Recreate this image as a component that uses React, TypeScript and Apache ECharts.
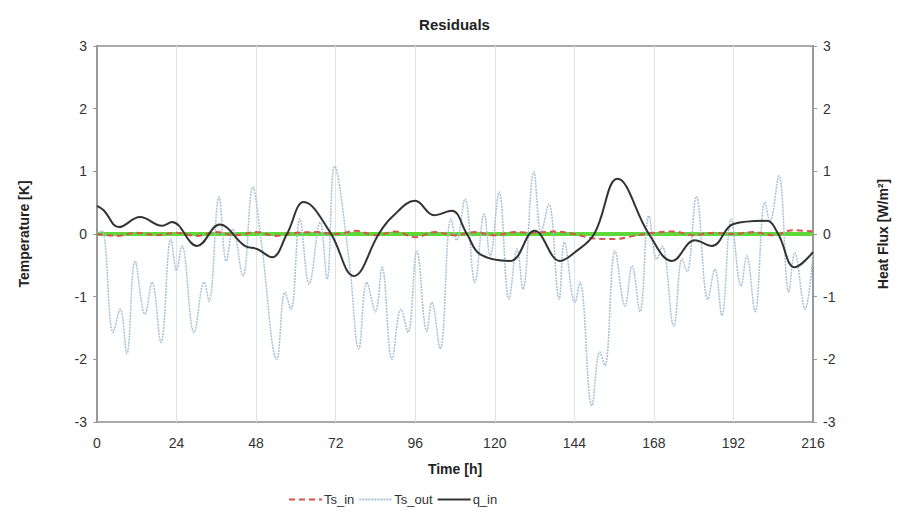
import React, { useEffect, useRef } from "react";
import * as echarts from "echarts";

const xTicks = [0, 24, 48, 72, 96, 120, 144, 168, 192, 216];

const tsOut: number[][] = [
  [0, 0.0], [1.5, 0.05], [4.9, -1.57], [7, -1.2], [9, -1.91], [11.5, -0.43], [14.5, -1.28],
  [16.6, -0.77], [19.3, -1.73], [22.3, -0.08], [24, -0.58], [25.6, -0.19], [29.3, -1.57],
  [32.3, -0.77], [33.8, -1.07], [36.8, 0.59], [39, -0.43], [41, 0.08], [44, -0.67], [47, 0.75],
  [49.5, -0.1], [54.3, -2.0], [56.7, -0.93], [58.5, -1.2], [61.2, 0.24], [64, -0.8], [67.3, 0.19],
  [69.4, -0.72], [71.7, 1.08], [76, -0.4], [79, -1.83], [81.4, -0.77], [84, -1.24], [86, -0.53],
  [89, -2.0], [91.7, -1.2], [93.8, -1.57], [96.5, -0.27], [99.5, -1.55], [101, -1.09],
  [103.5, -1.83], [106.8, 0.24], [108.5, -0.1], [111, 0.56], [114, -0.77], [116.8, 0.32],
  [118.6, -0.35], [121.3, 0.67], [124.3, -1.04], [126.7, -0.24], [128.5, -0.88], [131.8, 0.99],
  [134, 0.03], [136.3, 0.48], [139.4, -1.04], [141, -0.13], [144.2, -1.09], [145.7, -0.77],
  [149.3, -2.74], [151.7, -1.88], [153.2, -2.1], [156.3, -0.27], [159.3, -1.15], [161.4, -0.51],
  [163.8, -1.24], [166.5, 0.29], [168.9, -0.4], [170.5, -0.2], [174, -1.47], [176.5, -0.4],
  [178, -0.6], [180.8, 0.6], [184.3, -1.04], [186.4, -0.56], [188.5, -1.3], [191.3, 0.24],
  [194.3, -0.83], [196, -0.35], [198.5, -1.24], [201.5, 0.51], [203, 0.2], [205.7, 0.93],
  [208.7, -0.93], [210.5, -0.3], [213.6, -1.2], [216, -0.3],
];

const qIn: number[][] = [
  [0, 0.45], [2, 0.38], [6.6, 0.11], [13, 0.27], [19.6, 0.13], [22.6, 0.19], [30.2, -0.19],
  [37, 0.15], [44.6, -0.19], [48.3, -0.24], [52.8, -0.37], [57.3, 0.0], [62.4, 0.51],
  [70.3, 0.03], [77.5, -0.67], [85, 0.0], [89, 0.27], [96, 0.53], [101.7, 0.3], [107, 0.37],
  [111.6, 0.0], [115.5, -0.32], [124.6, -0.43], [132, 0.05], [139.7, -0.43], [144.2, -0.29],
  [150, 0.0], [157, 0.88], [166.5, 0.0], [173.5, -0.43], [180.4, -0.1], [185.5, -0.19],
  [192, 0.16], [202, 0.21], [205.5, 0.0], [210.5, -0.53], [216, -0.29],
];

const tsIn: number[][] = [
  [0, 0.0], [6, -0.03], [12, 0.02], [18, -0.02], [24, 0.02], [30, -0.03], [36, 0.03],
  [42, -0.02], [48, 0.03], [54, -0.03], [60, 0.02], [66, 0.03], [72, 0.0], [78, 0.05],
  [84, -0.02], [90, 0.04], [96, -0.05], [102, 0.03], [108, -0.02], [114, 0.03], [120, -0.02],
  [126, 0.03], [132, 0.02], [138, 0.04], [144, 0.0], [150, -0.07], [156, -0.08], [162, -0.03],
  [168, 0.02], [174, 0.04], [180, -0.02], [186, 0.02], [192, 0.0], [198, 0.03], [204, -0.02],
  [210, 0.06], [216, 0.04],
];

const zeroLine: number[][] = [[0, 0], [216, 0]];

const FONT = "'Liberation Sans', Arial, sans-serif";

export default function App() {
  const ref = useRef<HTMLDivElement>(null);
  useEffect(() => {
    if (!ref.current) return;
    const chart = echarts.init(ref.current, undefined, { renderer: "svg" });
    const yAxisBase = {
      type: "value",
      min: -3,
      max: 3,
      interval: 1,
      nameLocation: "middle",
      nameRotate: 90,
      nameTextStyle: { fontFamily: FONT, fontSize: 14, fontWeight: "bold", color: "#222" },
      axisLine: { show: true, lineStyle: { color: "#999", width: 2 } },
      axisTick: { show: true, length: 4, lineStyle: { color: "#999" } },
      axisLabel: { fontFamily: FONT, fontSize: 14, color: "#333", margin: 10 },
      splitLine: { show: false },
    };
    chart.setOption({
      animation: false,
      backgroundColor: "#fff",
      title: {
        text: "Residuals",
        left: "center",
        top: 12,
        textStyle: { fontFamily: FONT, fontSize: 15, fontWeight: "bold", color: "#222" },
      },
      grid: {
        left: 97,
        right: 96,
        top: 46,
        bottom: 94,
        show: true,
        borderColor: "#aaa",
        borderWidth: 2,
      },
      legend: {
        data: ["Ts_in", "Ts_out", "q_in"],
        left: 283,
        top: 488,
        itemWidth: 33,
        itemHeight: 12,
        itemGap: 4,
        itemStyle: { opacity: 0 },
        textStyle: { fontFamily: FONT, fontSize: 13, color: "#333", padding: [0, 0, 0, -3] },
      },
      xAxis: {
        type: "value",
        min: 0,
        max: 216,
        interval: 24,
        name: "Time [h]",
        nameLocation: "middle",
        nameGap: 40,
        nameTextStyle: { fontFamily: FONT, fontSize: 14, fontWeight: "bold", color: "#222" },
        axisLine: { show: true, lineStyle: { color: "#999", width: 2 } },
        axisTick: { show: false },
        axisLabel: {
          fontFamily: FONT,
          fontSize: 14,
          color: "#333",
          margin: 14,
          customValues: xTicks,
        },
        splitLine: { show: true, lineStyle: { color: "#e2e2e2", width: 1 } },
      },
      yAxis: [
        { ...yAxisBase, position: "left", name: "Temperature [K]", nameGap: 66 },
        { ...yAxisBase, position: "right", name: "Heat Flux [W/m²]", nameGap: 63 },
      ],
      series: [
        {
          name: "zero",
          type: "line",
          data: zeroLine,
          symbol: "none",
          silent: true,
          z: 1,
          lineStyle: { color: "#5fd83a", width: 4 },
        },
        {
          name: "Ts_out",
          type: "line",
          data: tsOut,
          smooth: 0.4,
          symbol: "none",
          z: 2,
          lineStyle: { color: "#a6c1d6", width: 1.5, type: [2, 1] },
          itemStyle: { color: "#a6c1d6" },
        },
        {
          name: "Ts_in",
          type: "line",
          data: tsIn,
          smooth: 0.4,
          symbol: "none",
          z: 3,
          lineStyle: { color: "#d9534f", width: 2, type: [6, 4] },
          itemStyle: { color: "#d9534f" },
        },
        {
          name: "q_in",
          type: "line",
          yAxisIndex: 1,
          data: qIn,
          smooth: 0.4,
          symbol: "none",
          z: 4,
          lineStyle: { color: "#333", width: 2 },
          itemStyle: { color: "#333" },
        },
      ],
    });
    return () => chart.dispose();
  }, []);
  return (
    <div
      ref={ref}
      style={{ position: "absolute", left: 0, top: 0, width: 909, height: 516, background: "#fff" }}
    />
  );
}
